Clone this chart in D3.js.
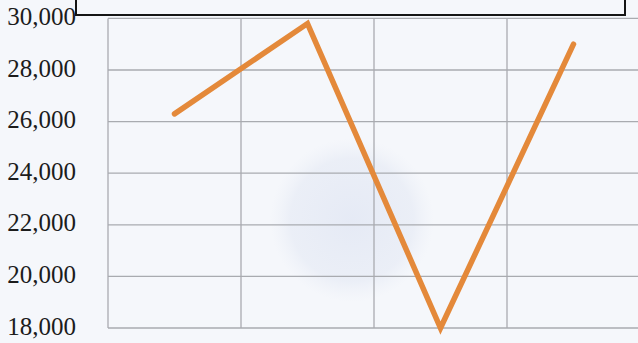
<!DOCTYPE html>
<html>
<head>
<meta charset="utf-8">
<script src="https://cdn.jsdelivr.net/npm/d3@7"></script>
<style>
  html, body { margin: 0; padding: 0; background: #f5f7fb; }
  svg { display: block; }
</style>
</head>
<body>
<svg id="chart" width="638" height="343"></svg>
<script>
// ---- data ----
const categories = ["1", "2", "3", "4"];
const values = [26300, 29800, 18000, 29000];
const yTicks = [18000, 20000, 22000, 24000, 26000, 28000, 30000];
const yDomain = [18000, 30000];

// ---- layout ----
const W = 638, H = 343;
const plot = { left: 108, right: 640, top: 18.4, bottom: 328 };

const svg = d3.select("#chart");

svg.append("rect").attr("width", W).attr("height", H).attr("fill", "#f5f7fb");

// faint scanned watermark blob
const defs = svg.append("defs");
const rg = defs.append("radialGradient").attr("id", "wm");
rg.append("stop").attr("offset", "0%").attr("stop-color", "#d2daee").attr("stop-opacity", 0.45);
rg.append("stop").attr("offset", "75%").attr("stop-color", "#d8dfef").attr("stop-opacity", 0.35);
rg.append("stop").attr("offset", "100%").attr("stop-color", "#e3e8f4").attr("stop-opacity", 0);
svg.append("circle").attr("cx", 352).attr("cy", 220).attr("r", 82).attr("fill", "url(#wm)");

const x = d3.scaleBand().domain(categories).range([plot.left, plot.right]).padding(0);
const y = d3.scaleLinear().domain(yDomain).range([plot.bottom, plot.top]);

// horizontal grid lines
svg.append("g")
  .selectAll("line")
  .data(yTicks)
  .join("line")
  .attr("x1", plot.left).attr("x2", plot.right)
  .attr("y1", d => y(d)).attr("y2", d => y(d))
  .attr("stroke", "#a9abb0").attr("stroke-width", 1.3);

// vertical grid lines (band edges)
const xEdges = categories.map(c => x(c)).concat([x(categories[categories.length - 1]) + x.bandwidth()]);
svg.append("g")
  .selectAll("line")
  .data(xEdges)
  .join("line")
  .attr("x1", d => d).attr("x2", d => d)
  .attr("y1", plot.top).attr("y2", plot.bottom)
  .attr("stroke", "#a9abb0").attr("stroke-width", 1.3);

// y-axis labels
const fmt = d3.format(",");
svg.append("g")
  .selectAll("text")
  .data(yTicks)
  .join("text")
  .attr("x", 76)
  .attr("y", d => y(d) - 2)
  .attr("text-anchor", "end")
  .attr("dominant-baseline", "central")
  .attr("font-family", "'Liberation Serif', 'DejaVu Serif', serif")
  .attr("font-size", 25)
  .attr("fill", "#1c1c1c")
  .text(d => fmt(d));

// top frame (legend box, cut off)
svg.append("rect")
  .attr("x", 76).attr("y", -10)
  .attr("width", 549).attr("height", 25)
  .attr("fill", "none")
  .attr("stroke", "#151515").attr("stroke-width", 2);

// data line
const line = d3.line()
  .x((d, i) => x(categories[i]) + x.bandwidth() / 2)
  .y(d => y(d));

svg.append("path")
  .datum(values)
  .attr("d", line)
  .attr("fill", "none")
  .attr("stroke", "#e4893a")
  .attr("stroke-width", 5.5)
  .attr("stroke-linejoin", "miter")
  .attr("stroke-linecap", "round");
</script>
</body>
</html>
